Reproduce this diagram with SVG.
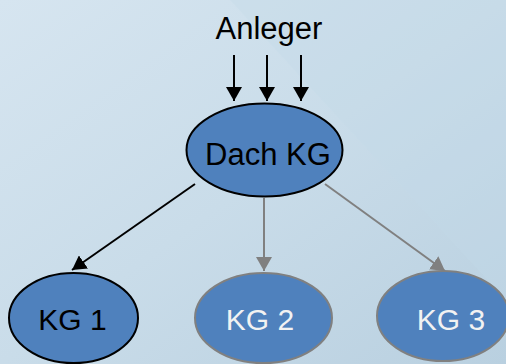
<svg xmlns="http://www.w3.org/2000/svg" width="506" height="364" viewBox="0 0 506 364">
<defs>
<linearGradient id="bg" x1="0" y1="0" x2="1" y2="1">
<stop offset="0" stop-color="#d6e5f0"/>
<stop offset="0.5" stop-color="#c9dce9"/>
<stop offset="1" stop-color="#b9d0e0"/>
</linearGradient>
<marker id="ahB" viewBox="0 0 14 16" refX="14" refY="8" markerWidth="14" markerHeight="16" markerUnits="userSpaceOnUse" orient="auto">
<path d="M0,0 L14,8 L0,16 z" fill="#000"/>
</marker>
<marker id="ahG" viewBox="0 0 14 16" refX="14" refY="8" markerWidth="14" markerHeight="16" markerUnits="userSpaceOnUse" orient="auto">
<path d="M0,0 L14,8 L0,16 z" fill="#808080"/>
</marker>
</defs>
<style>
.node{fill:#4f81bd;stroke-width:2}
.blk{stroke:#000}
.gry{stroke:#808080}
.lbl{font-family:"Liberation Sans",Arial,sans-serif;font-size:30px;text-anchor:middle}
.cb{stroke:#000;stroke-width:2;fill:none;marker-end:url(#ahB)}
.cg{stroke:#808080;stroke-width:2;fill:none;marker-end:url(#ahG)}
</style>
<rect width="506" height="364" fill="url(#bg)"/>
<path d="M230,0 L506,0 L506,300 Z" fill="#c4d9e8" opacity="0.35"/>
<g id="connectors">
<line class="cb" x1="234" y1="55" x2="234" y2="101"/>
<line class="cb" x1="267" y1="55" x2="267" y2="101"/>
<line class="cb" x1="301" y1="55" x2="301" y2="101"/>
<line class="cb" x1="195" y1="184" x2="72" y2="270"/>
<line class="cg" x1="264" y1="198" x2="264" y2="271"/>
<line class="cg" x1="325" y1="184" x2="445" y2="271"/>
</g>
<g id="anleger">
<text class="lbl" x="269" y="39" font-size="31" style="font-size:31px">Anleger</text>
</g>
<g id="dach">
<ellipse class="node blk" cx="264.5" cy="150" rx="78" ry="46.5"/>
<text class="lbl" x="268" y="165" style="font-size:31px">Dach KG</text>
</g>
<g id="kg1">
<ellipse class="node blk" cx="73.5" cy="318" rx="64.5" ry="45"/>
<text class="lbl" x="72.5" y="330" fill="#000">KG 1</text>
</g>
<g id="kg2">
<ellipse class="node gry" cx="263.5" cy="318" rx="68.5" ry="45"/>
<text class="lbl" x="260" y="330" fill="#f2f2f2">KG 2</text>
</g>
<g id="kg3">
<ellipse class="node gry" cx="443" cy="316" rx="66" ry="45"/>
<text class="lbl" x="451" y="330" fill="#f2f2f2">KG 3</text>
</g>
</svg>
